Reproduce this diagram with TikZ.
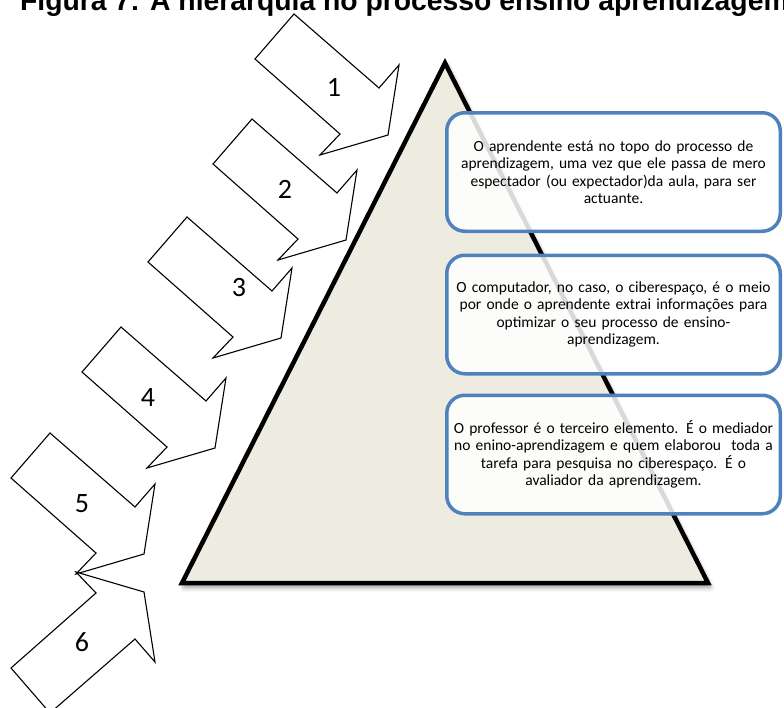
\documentclass[tikz,border=0pt]{standalone}
\usepackage{fontspec}
\setmainfont{Carlito}
\newfontfamily\titlefont{Liberation Sans}
\usepackage{tikz}
\usetikzlibrary{shadows.blur}
\definecolor{piramidecor}{RGB}{238,236,225}
\definecolor{caixaazul}{RGB}{79,129,189}

\begin{document}
\begin{tikzpicture}[x=1pt, y=-1pt,
  seta/.style={draw=black, fill=white, line width=1.1pt, line join=miter},
  numero/.style={font=\fontsize{28}{30}\selectfont, inner sep=0pt},
  piramide/.style={draw=black, fill=piramidecor, line width=4.5pt, line join=miter,
    blur shadow={shadow xshift=2pt, shadow yshift=-4pt, shadow blur radius=5pt, shadow opacity=45}},
  caixa/.style={draw=caixaazul, line width=3.5pt, rounded corners=18pt, fill=white,
    fill opacity=0.85, text opacity=1, minimum width=333.5pt, minimum height=118.5pt,
    text width=328pt, align=center, inner sep=0pt, font=\fontsize{15.5}{17.4}\selectfont},
  titulo/.style={font=\titlefont\bfseries\fontsize{28.3}{30}\selectfont, anchor=base west, inner sep=0pt}]
\clip (0,0) rectangle (784,707);
\node[titulo] (titulo) at (20,10) {Figura 7: A hierarquia no processo ensino aprendizagem};

\foreach \n/\tx/\ty/\lx/\ly in {1/388/135/334/87, 2/346/240/285/189, 3/281/338/239/288, 4/215/448/148/398, 5/144/554/82/504}{
  \draw[seta, shift={(\tx,\ty)}] (-94,-121) -- (-9,-47) -- (11,-70) -- (0,0) -- (-68,20) -- (-48,-1) -- (-133,-76) -- cycle;
  \node[numero] (num\n) at (\lx,\ly) {\n};
}
\draw[seta, shift={(144,592)}, yscale=-1] (-94,-121) -- (-9,-47) -- (11,-70) -- (0,0) -- (-68,20) -- (-48,-1) -- (-133,-76) -- cycle;
\node[numero] (num6) at (82,642) {6};

\draw[piramide] (182,583) -- (445,63) -- (708,583) -- cycle;

\node[caixa] (caixaA) at (613.5,172) {O aprendente está no topo do processo de\\aprendizagem, uma vez que ele passa de mero\\espectador (ou expectador)da aula, para ser\\actuante.};
\node[caixa] (caixaB) at (613.5,314.5) {O computador, no caso, o ciberespaço, é o meio\\por onde o aprendente extrai informações para\\optimizar o seu processo de ensino-\\aprendizagem.};
\node[caixa] (caixaC) at (613.5,454.5) {O professor é o terceiro elemento. É o mediador\\no enino-aprendizagem e quem elaborou \ toda a\\tarefa para pesquisa no ciberespaço. É o\\avaliador da aprendizagem.};
\end{tikzpicture}
\end{document}
